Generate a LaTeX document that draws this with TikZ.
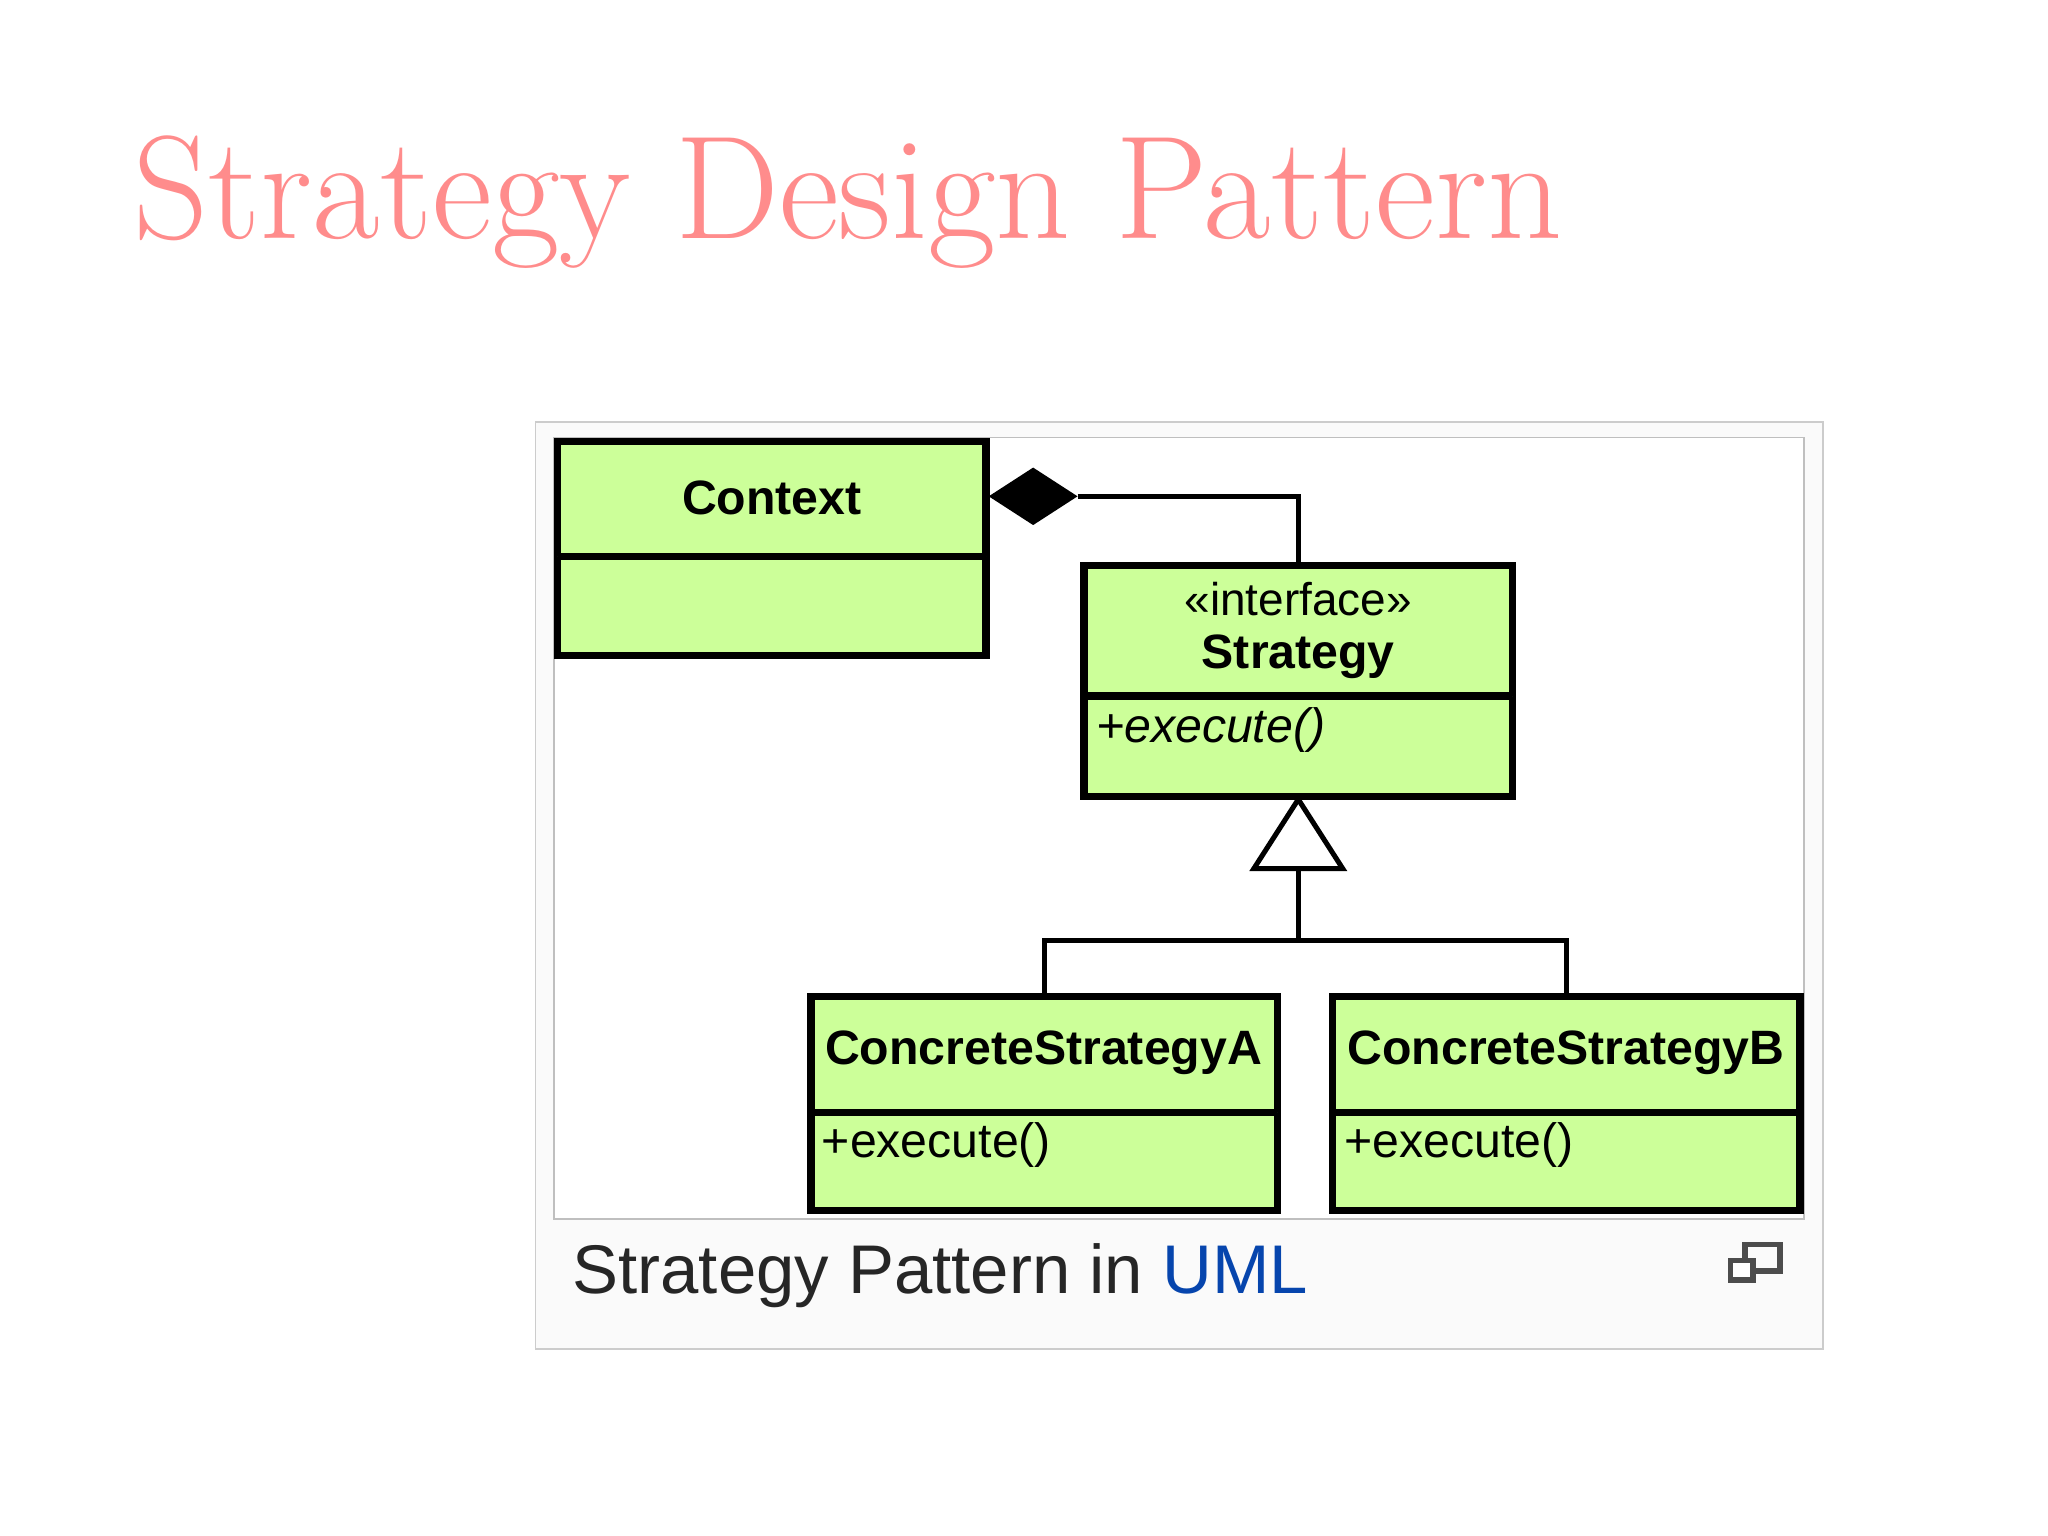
\documentclass[tikz,border=0pt]{standalone}
\usepackage{fontspec}
\setmainfont{Liberation Sans}
\newfontfamily\titlefont{Latin Modern Roman}
\begin{document}
\begin{tikzpicture}[x=0.01cm,y=-0.01cm,
  cls/.style={draw=black,line width=1.6pt,fill=green!25!lime!45!white},
  ln/.style={line width=1.1pt},
  nm/.style={font=\bfseries\fontsize{10.5}{12}\selectfont},
  op/.style={font=\fontsize{10.5}{12}\selectfont,anchor=west,inner sep=1pt}]
\definecolor{gfill}{HTML}{CCFF99}
\tikzset{cls/.style={draw=black,line width=1.6pt,fill=gfill}}
\useasboundingbox (0,0) rectangle (1568,1176);
\fill[white] (0,0) rectangle (1568,1176);
\node[anchor=west,text=red!45!white,font=\titlefont\fontsize{32}{36}\selectfont] (title) at (90,155) {\textsc{Strategy Design Pattern}};
\draw[draw=black!20,fill=black!2] (410,323) rectangle (1396,1033);
\draw[draw=black!25,fill=white] (424,335) rectangle (1381,933);
% Context
\draw[cls] (427,338) rectangle (755,502); \draw[cls] (427,426) -- (755,426);
\node[nm] (ctx) at (591,381) {Context};
% Strategy
\draw[cls] (830,433) rectangle (1158,610); \draw[cls] (830,533) -- (1158,533);
\node[font=\fontsize{10}{12}\selectfont] (st1) at (994,459) {«interface»};
\node[nm] (st2) at (994,503) {Strategy};
\node[op] (st3) at (835,559) {\itshape +execute()};
% A
\draw[cls] (621,763) rectangle (978,927); \draw[cls] (621,852) -- (978,852);
\node[nm] (a) at (799,806) {ConcreteStrategyA};
\node[op] (ao) at (625,877) {+execute()};
% B
\draw[cls] (1020,763) rectangle (1378,927); \draw[cls] (1020,852) -- (1378,852);
\node[nm] (b) at (1199,806) {ConcreteStrategyB};
\node[op] (bo) at (1025,877) {+execute()};
% composition
\fill (757,380) -- (791,358) -- (825,380) -- (791,402) -- cycle;
\draw[ln] (825,380) -- (994,380) -- (994,433);
% generalization
\draw[ln,fill=white] (994,612) -- (1028,665) -- (960,665) -- cycle;
\draw[ln] (994,665) -- (994,720);
\draw[ln] (800,763) -- (800,720) -- (1199,720) -- (1199,763);
% caption
\node[anchor=west,font=\fontsize{15}{18}\selectfont,text=black!85] (cap) at (426,977) {Strategy Pattern in \textcolor[HTML]{0645AD}{UML}};
\draw[line width=1.2pt,black!70] (1336,953) rectangle (1363,973);
\draw[line width=1.2pt,black!70,fill=white] (1325,965) rectangle (1342,980);
\end{tikzpicture}
\end{document}
